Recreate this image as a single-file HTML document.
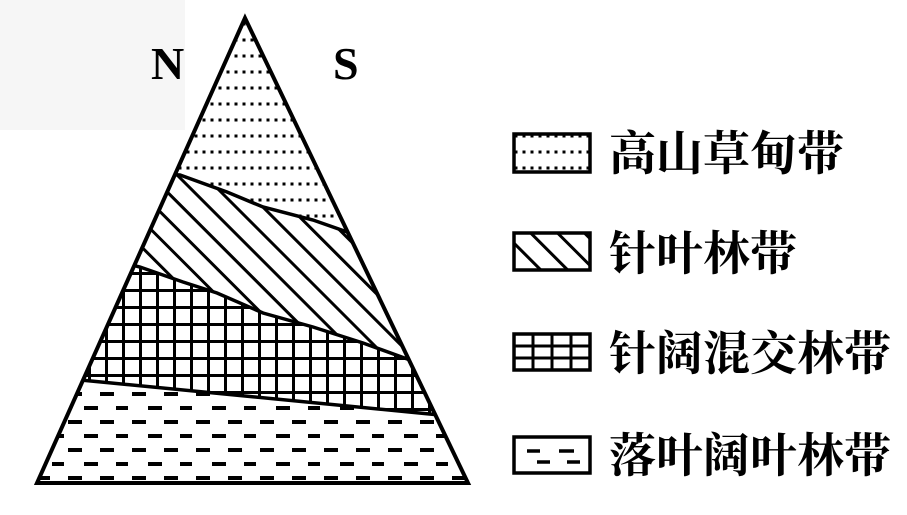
<!DOCTYPE html>
<html><head><meta charset="utf-8"><style>
html,body{margin:0;padding:0;background:#fff;width:907px;height:515px;overflow:hidden}
</style></head><body>
<svg width="907" height="515" viewBox="0 0 907 515" xmlns="http://www.w3.org/2000/svg">
<defs>
<pattern id="dots" width="8" height="16" patternUnits="userSpaceOnUse" x="0" y="4"><rect x="2.5" y="2.5" width="3" height="3" fill="#000"/></pattern>
<pattern id="hatch" width="19" height="19" patternUnits="userSpaceOnUse" patternTransform="rotate(-45)"><rect x="0" y="0" width="3" height="19" fill="#000"/></pattern>
<pattern id="grid" width="17" height="17" patternUnits="userSpaceOnUse" x="3" y="0"><rect x="0" y="0" width="3" height="17" fill="#000"/><rect x="0" y="0" width="17" height="3" fill="#000"/></pattern>
<pattern id="dash" width="64" height="28" patternUnits="userSpaceOnUse" x="0" y="390"><rect x="4" y="2" width="14" height="4" fill="#000"/><rect x="36" y="2" width="14" height="4" fill="#000"/><rect x="20" y="16" width="14" height="4" fill="#000"/><rect x="52" y="16" width="12" height="4" fill="#000"/></pattern>
<clipPath id="tri"><polygon points="245,18 37,483 468,483"/></clipPath>
</defs>
<rect x="0" y="0" width="185" height="130" fill="#f6f6f6"/>
<g clip-path="url(#tri)">
<rect x="0" y="0" width="500" height="500" fill="url(#dots)"/>
<polygon points="0,160 180,175 227,192 263,207 313,220 350,233 500,300 500,500 0,500" fill="#fff"/>
<polygon points="0,160 180,175 227,192 263,207 313,220 350,233 500,300 500,500 0,500" fill="url(#hatch)"/>
<polygon points="0,262 140,267 183,282 217,293 263,313 313,327 363,343 410,360 500,380 500,500 0,500" fill="#fff"/>
<polygon points="0,262 140,267 183,282 217,293 263,313 313,327 363,343 410,360 500,380 500,500 0,500" fill="url(#grid)"/>
<polygon points="0,373 85,380 437,415 500,421 500,500 0,500" fill="#fff"/>
<polygon points="0,373 85,380 437,415 500,421 500,500 0,500" fill="url(#dash)"/>
<polyline points="160,174 180,175 227,192 263,207 313,220 350,233 370,245" fill="none" stroke="#000" stroke-width="3.5"/>
<polyline points="120,262 140,267 183,282 217,293 263,313 313,327 363,343 410,360" fill="none" stroke="#000" stroke-width="3.5"/>
<line x1="60" y1="378" x2="460" y2="417" stroke="#000" stroke-width="3.5"/>
</g>
<polygon points="245,18 37,483 468,483" fill="none" stroke="#000" stroke-width="4" stroke-linejoin="miter"/>
<text x="151" y="79" font-family="Liberation Serif, serif" font-weight="bold" font-size="46">N</text>
<text x="333" y="79" font-family="Liberation Serif, serif" font-weight="bold" font-size="46">S</text>
<g stroke="#000" stroke-width="3.5">
<rect x="514" y="134" width="76" height="38" fill="url(#dots)"/>
<rect x="514" y="233" width="76" height="37" fill="url(#hatch)"/>
<rect x="514" y="334" width="76" height="36" fill="#fff"/>
<rect x="514" y="437" width="76" height="36" fill="#fff"/>
</g>
<g stroke="#000" stroke-width="3">
<line x1="514" y1="346" x2="590" y2="346"/><line x1="514" y1="358" x2="590" y2="358"/>
<line x1="533" y1="334" x2="533" y2="370"/><line x1="552" y1="334" x2="552" y2="370"/><line x1="571" y1="334" x2="571" y2="370"/>
<path d="M527 451h13M559 451h15M537 462h13M567 462h13" stroke-width="3.5"/>
</g>
<g font-family="Liberation Serif, 'Noto Serif CJK SC', serif" font-weight="bold" font-size="47" fill="#000">
<text x="609" y="170">高山草甸带</text>
<text x="609" y="270">针叶林带</text>
<text x="609" y="370">针阔混交林带</text>
<text x="609" y="472">落叶阔叶林带</text>
</g>
</svg>
</body></html>
